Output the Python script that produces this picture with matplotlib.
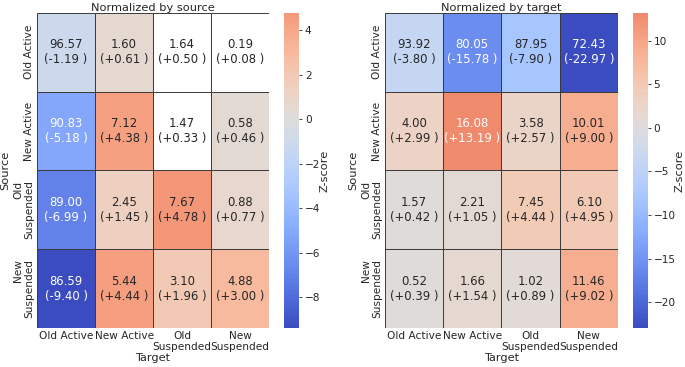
"""transition heatmaps: normalized by source / by target"""

import numpy as np
import matplotlib
matplotlib.use('Agg')
import matplotlib.pyplot as plt
from matplotlib.colors import Normalize, ListedColormap
from matplotlib.patches import Rectangle
from matplotlib.cm import ScalarMappable

# categories
states = ['Old Active', 'New Active', 'Old\nSuspended', 'New\nSuspended']

# normalized by source: percentages and z-scores
pct_source = [[96.57, 1.60, 1.64, 0.19],
              [90.83, 7.12, 1.47, 0.58],
              [89.00, 2.45, 7.67, 0.88],
              [86.59, 5.44, 3.10, 4.88]]
z_source = [[-1.19, 0.61, 0.50, 0.08],
            [-5.18, 4.38, 0.33, 0.46],
            [-6.99, 1.45, 4.78, 0.77],
            [-9.40, 4.44, 1.96, 3.00]]
# cells left blank (white) in the original
blank_source = [[False, False, True, True],
                [False, False, True, False],
                [False, False, False, False],
                [False, False, False, False]]

# normalized by target
pct_target = [[93.92, 80.05, 87.95, 72.43],
              [4.00, 16.08, 3.58, 10.01],
              [1.57, 2.21, 7.45, 6.10],
              [0.52, 1.66, 1.02, 11.46]]
z_target = [[-3.80, -15.78, -7.90, -22.97],
            [2.99, 13.19, 2.57, 9.00],
            [0.42, 1.05, 4.44, 4.95],
            [0.39, 1.54, 0.89, 9.02]]
blank_target = [[False] * 4 for _ in range(4)]

TEXT = '#262626'


def centered_cmap(vmin, vmax, center=0):
    """crop coolwarm so that center sits in the middle (seaborn style)"""
    base = plt.get_cmap('coolwarm')
    vrange = max(vmax - center, center - vmin)
    n = Normalize(center - vrange, center + vrange)
    cmin, cmax = n([vmin, vmax])
    return ListedColormap(base(np.linspace(cmin, cmax, 256)))


def luminance(c):
    rgb = np.array(c[:3])
    rgb = np.where(rgb <= .03928, rgb / 12.92, ((rgb + .055) / 1.055) ** 2.4)
    return .2126 * rgb[0] + .7152 * rgb[1] + .0722 * rgb[2]


def draw_heatmap(ax, cax, pct, z, blank, title, ticks):
    z = np.array(z)
    vmin, vmax = z.min(), z.max()
    cmap = centered_cmap(vmin, vmax)
    norm = Normalize(vmin, vmax)
    n = len(states)
    for i in range(n):
        for j in range(n):
            color = (1, 1, 1, 1) if blank[i][j] else cmap(norm(z[i, j]))
            ax.add_patch(Rectangle((j, i), 1, 1, facecolor=color,
                                   edgecolor='#3a3a3a', linewidth=0.7))
            tc = TEXT if luminance(color) > .408 else 'white'
            ax.text(j + 0.5, i + 0.5, '%.2f\n(%+.2f )' % (pct[i][j], z[i, j]),
                    ha='center', va='center', fontsize=8.4, color=tc,
                    linespacing=1.2)
    ax.set_xlim(0, n)
    ax.set_ylim(n, 0)
    for s in ax.spines.values():
        s.set_visible(False)
    ax.set_xticks(np.arange(n) + 0.5)
    ax.set_xticklabels(states, fontsize=7.6, color=TEXT, linespacing=1.15)
    ax.set_yticks(np.arange(n) + 0.5)
    ax.set_yticklabels(states, fontsize=7.6, color=TEXT, rotation=90,
                       va='center', linespacing=1.15)
    ax.tick_params(length=0, pad=2)
    ax.set_xlabel('Target', fontsize=8.2, color=TEXT, labelpad=0.5)
    ax.set_ylabel('Source', fontsize=8.2, color=TEXT, labelpad=2)
    ax.set_title(title, fontsize=8.2, color=TEXT, pad=1.5)

    sm = ScalarMappable(norm=norm, cmap=cmap)
    cb = plt.colorbar(sm, cax=cax)
    cb.outline.set_visible(False)
    cb.set_ticks(ticks)
    cb.ax.tick_params(labelsize=7.6, colors=TEXT, length=2.5, width=0.6, pad=1.5)
    cb.set_label('Z-score', fontsize=8.2, color=TEXT, labelpad=-1)


fig = plt.figure(figsize=(6.85, 3.67), dpi=100)
ax1 = fig.add_axes([0.054, 0.106, 0.339, 0.859])
cax1 = fig.add_axes([0.415, 0.106, 0.022, 0.859])
ax2 = fig.add_axes([0.562, 0.106, 0.340, 0.859])
cax2 = fig.add_axes([0.924, 0.106, 0.022, 0.859])

draw_heatmap(ax1, cax1, pct_source, z_source, blank_source,
             'Normalized by source', [-8, -6, -4, -2, 0, 2, 4])
draw_heatmap(ax2, cax2, pct_target, z_target, blank_target,
             'Normalized by target', [-20, -15, -10, -5, 0, 5, 10])

fig.savefig('out.png', dpi=100)
